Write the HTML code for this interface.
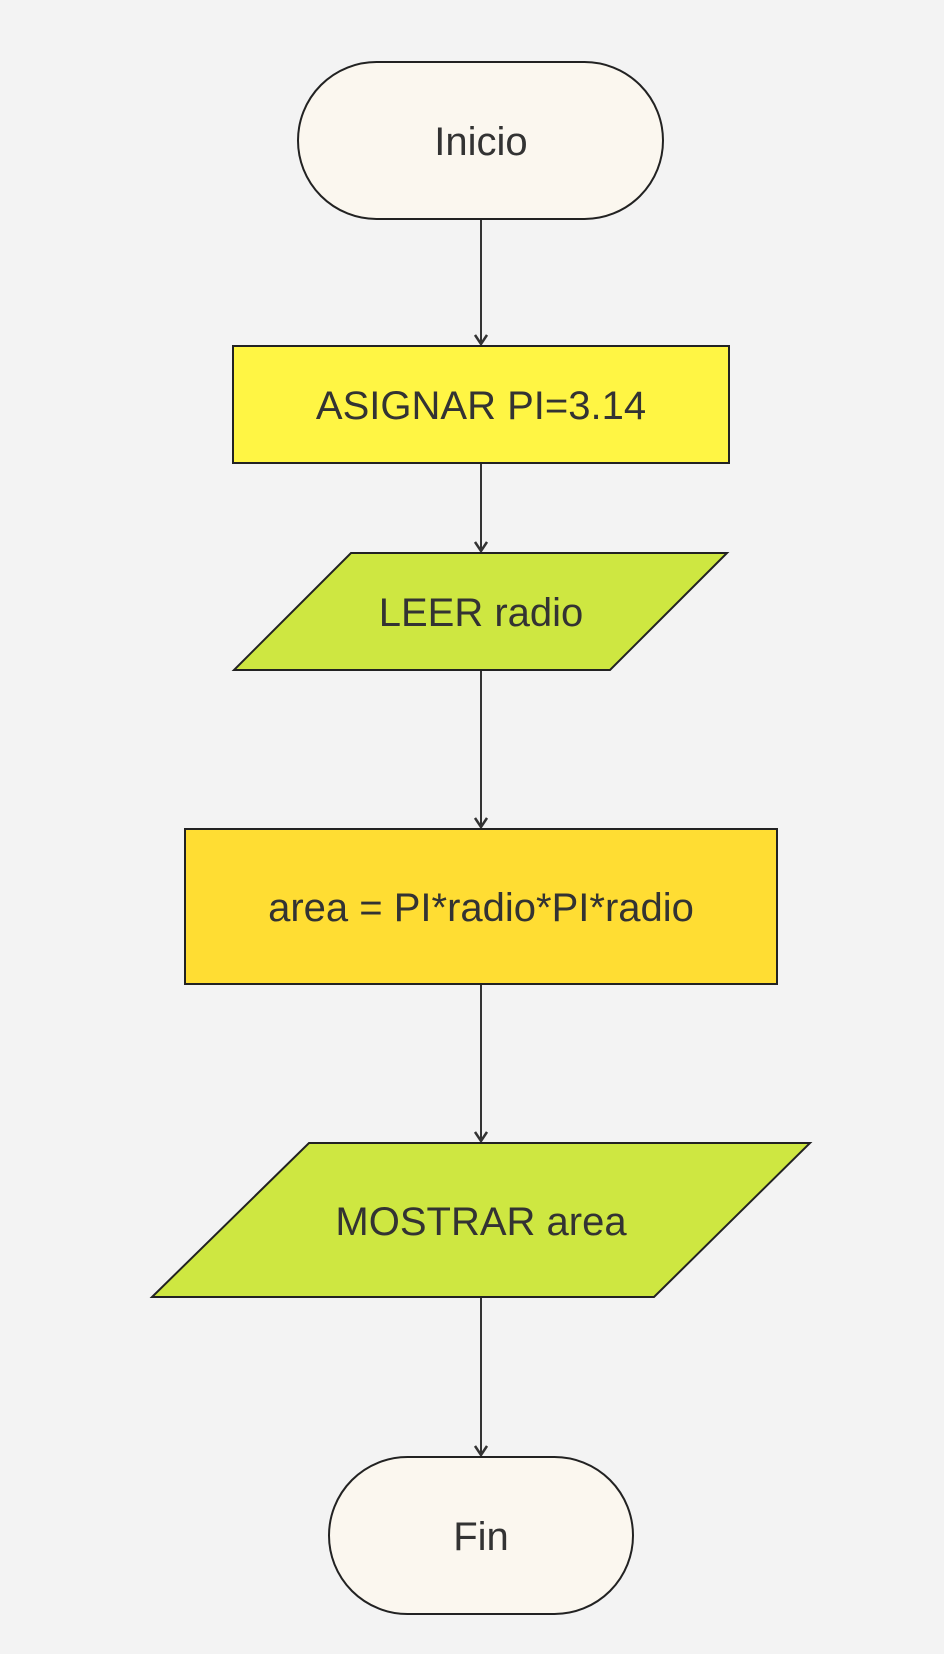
<!DOCTYPE html>
<html><head><meta charset="utf-8"><style>
html,body{margin:0;padding:0;background:#f3f3f3;}
svg{display:block;}
text{font-family:"Liberation Sans",sans-serif;font-size:40px;fill:#333;text-anchor:middle;dominant-baseline:central;}
</style></head><body>
<svg width="944" height="1654" viewBox="0 0 944 1654" xmlns="http://www.w3.org/2000/svg">
<defs><marker id="a" markerWidth="14" markerHeight="14" refX="10" refY="7" orient="auto" markerUnits="userSpaceOnUse"><path d="M1,1 L10,7 L1,13" fill="none" stroke="#333" stroke-width="2.5"/></marker></defs>
<rect width="944" height="1654" fill="#f3f3f3"/>
<g stroke="#333" stroke-width="2" marker-end="url(#a)">
<line x1="481" y1="219" x2="481" y2="344"/>
<line x1="481" y1="463" x2="481" y2="551"/>
<line x1="481" y1="670" x2="481" y2="827"/>
<line x1="481" y1="984" x2="481" y2="1141"/>
<line x1="481" y1="1297" x2="481" y2="1455"/>
</g>
<g stroke="#222" stroke-width="2">
<rect x="298" y="62" width="365" height="157" rx="78.5" fill="#fbf7ef"/>
<rect x="233" y="346" width="496" height="117" fill="#fff544"/>
<polygon points="351,553 727,553 610,670 234,670" fill="#cee741"/>
<rect x="185" y="829" width="592" height="155" fill="#ffdd33"/>
<polygon points="309,1143 810,1143 654,1297 152,1297" fill="#cee741"/>
<rect x="329" y="1457" width="304" height="157" rx="78.5" fill="#fbf7ef"/>
</g>
<text x="481" y="142">Inicio</text>
<text x="481" y="406">ASIGNAR PI=3.14</text>
<text x="481" y="613">LEER radio</text>
<text x="481" y="908">area = PI*radio*PI*radio</text>
<text x="481" y="1222">MOSTRAR area</text>
<text x="481" y="1537">Fin</text>
</svg>
</body></html>
